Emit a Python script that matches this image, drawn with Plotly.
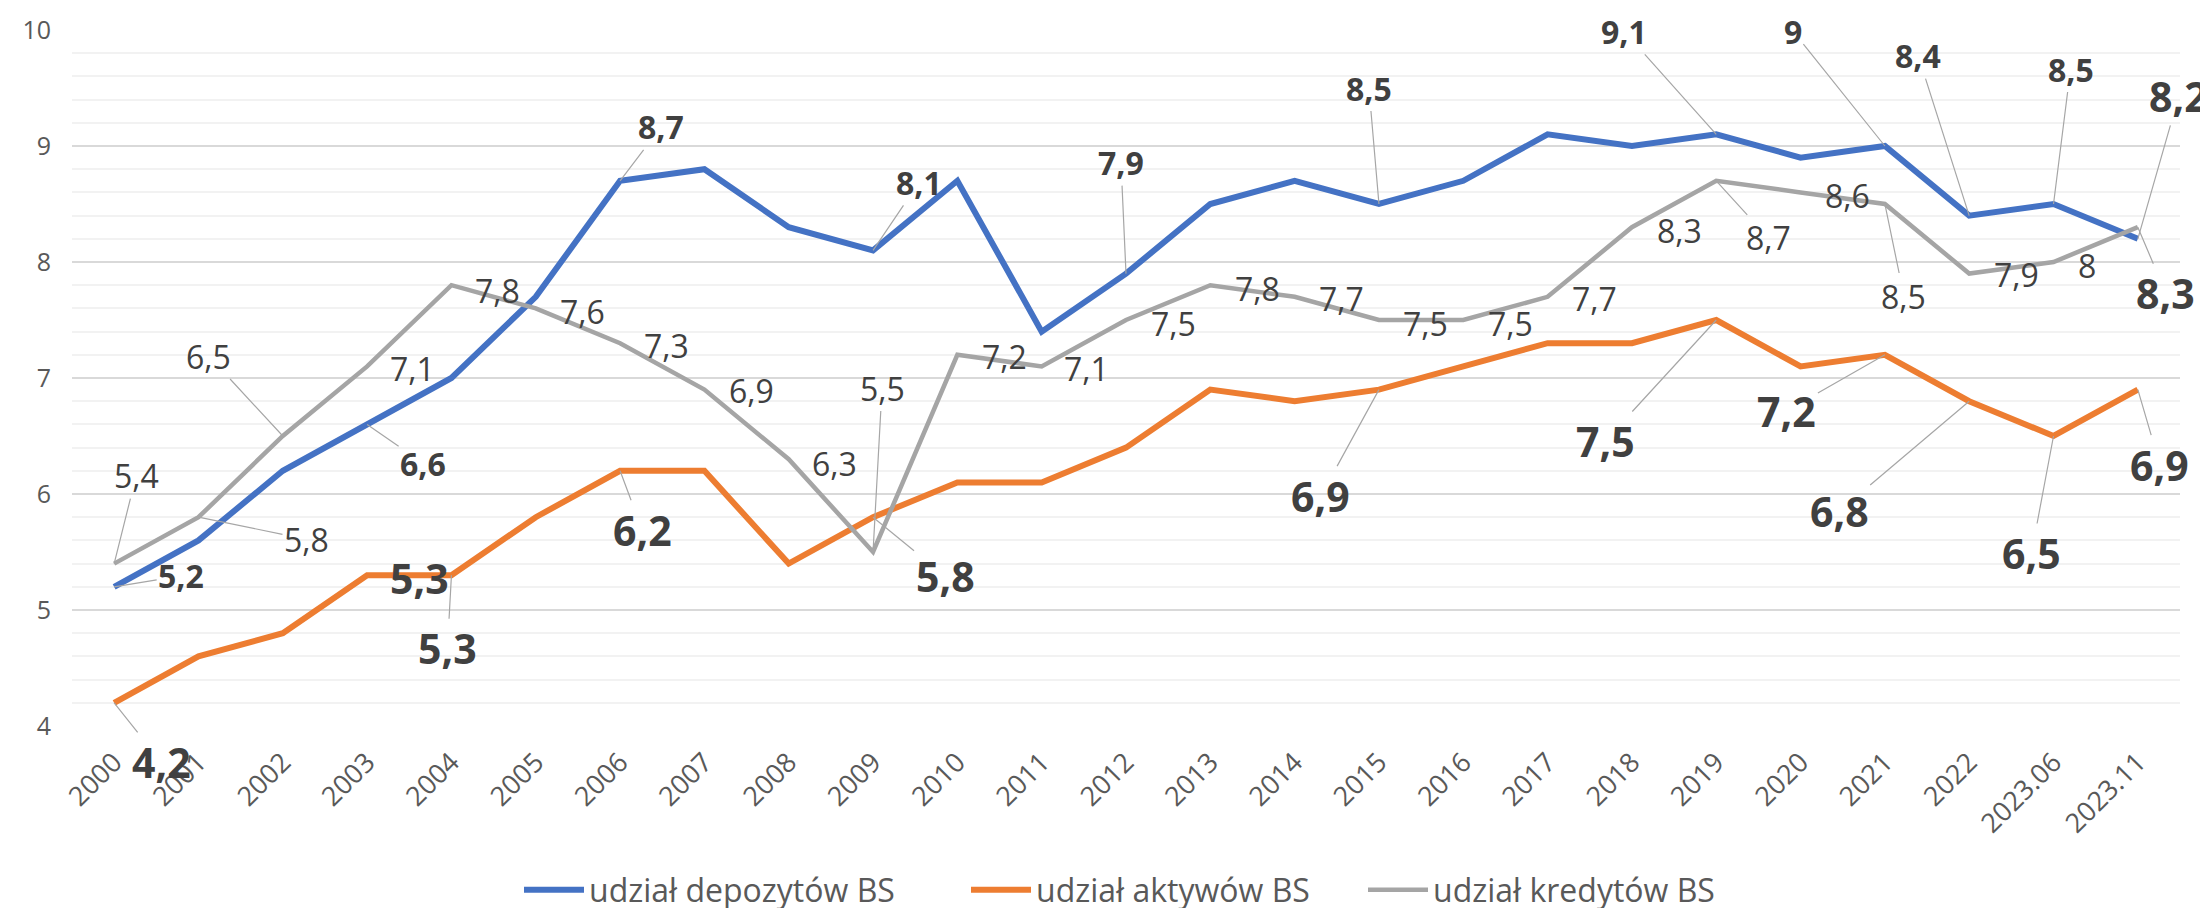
import plotly.graph_objects as go

# ---------------- data ----------------
categories = ["2000", "2001", "2002", "2003", "2004", "2005", "2006", "2007", "2008",
              "2009", "2010", "2011", "2012", "2013", "2014", "2015", "2016", "2017",
              "2018", "2019", "2020", "2021", "2022", "2023.06", "2023.11"]

udzial_depozytow = [5.2, 5.6, 6.2, 6.6, 7.0, 7.7, 8.7, 8.8, 8.3, 8.1, 8.7, 7.4, 7.9,
                    8.5, 8.7, 8.5, 8.7, 9.1, 9.0, 9.1, 8.9, 9.0, 8.4, 8.5, 8.2]
udzial_aktywow = [4.2, 4.6, 4.8, 5.3, 5.3, 5.8, 6.2, 6.2, 5.4, 5.8, 6.1, 6.1, 6.4,
                  6.9, 6.8, 6.9, 7.1, 7.3, 7.3, 7.5, 7.1, 7.2, 6.8, 6.5, 6.9]
udzial_kredytow = [5.4, 5.8, 6.5, 7.1, 7.8, 7.6, 7.3, 6.9, 6.3, 5.5, 7.2, 7.1, 7.5,
                   7.8, 7.7, 7.5, 7.5, 7.7, 8.3, 8.7, 8.6, 8.5, 7.9, 8.0, 8.3]

series_names = ["udział depozytów BS", "udział aktywów BS", "udział kredytów BS"]

# ---------------- styles ----------------
colors = {"dep": "#4472C4", "ast": "#ED7D31", "loan": "#A5A5A5"}
widths = {"dep": 6, "ast": 6, "loan": 4.5}
legend_widths = {"dep": 372, "ast": 322, "loan": 295}
FONT = "Open Sans"
LABEL_COLOR = "#404040"
LEADER_COLOR = "#A6A6A6"
label_styles = {
    "reg": dict(size=32, weight="normal"),
    "mid": dict(size=32, weight="bold"),
    "big": dict(size=41, weight="bold"),
}

series = {"dep": udzial_depozytow, "ast": udzial_aktywow, "loan": udzial_kredytow}

# label placement: (series, category index, dx px, dy px, style, leader line)
label_layout = [
    ("dep", 0, 67, -11, "mid", True),
    ("dep", 3, 56, 39, "mid", True),
    ("dep", 6, 41, -54, "mid", True),
    ("dep", 9, 46, -68, "mid", True),
    ("dep", 12, -5, -111, "mid", True),
    ("dep", 15, -10, -116, "mid", True),
    ("dep", 19, -92, -103, "mid", True),
    ("dep", 21, -92, -115, "mid", True),
    ("dep", 22, -51, -160, "mid", True),
    ("dep", 23, 17, -135, "mid", True),
    ("dep", 24, 41, -143, "big", True),

    ("ast", 0, 47, 59, "big", True),
    ("ast", 3, 52, 3, "big", False),
    ("ast", 4, -4, 73, "big", True),
    ("ast", 6, 22, 59, "big", True),
    ("ast", 9, 72, 59, "big", True),
    ("ast", 15, -58, 106, "big", True),
    ("ast", 19, -111, 121, "big", True),
    ("ast", 21, -98, 56, "big", True),
    ("ast", 22, -130, 110, "big", True),
    ("ast", 23, -22, 117, "big", True),
    ("ast", 24, 22, 75, "big", True),

    ("loan", 0, 22, -88, "reg", True),
    ("loan", 1, 108, 22, "reg", True),
    ("loan", 2, -74, -80, "reg", True),
    ("loan", 3, 45, 2, "reg", False),
    ("loan", 4, 46, 5, "reg", False),
    ("loan", 5, 47, 3, "reg", False),
    ("loan", 6, 46, 2, "reg", False),
    ("loan", 7, 47, 1, "reg", False),
    ("loan", 8, 46, 4, "reg", False),
    ("loan", 9, 9, -164, "reg", True),
    ("loan", 10, 47, 2, "reg", False),
    ("loan", 11, 45, 2, "reg", False),
    ("loan", 12, 47, 3, "reg", False),
    ("loan", 13, 47, 3, "reg", False),
    ("loan", 14, 47, 2, "reg", False),
    ("loan", 15, 47, 3, "reg", False),
    ("loan", 16, 47, 3, "reg", False),
    ("loan", 17, 47, 2, "reg", False),
    ("loan", 18, 48, 3, "reg", False),
    ("loan", 19, 52, 57, "reg", True),
    ("loan", 20, 47, 3, "reg", False),
    ("loan", 21, 19, 92, "reg", True),
    ("loan", 22, 47, 1, "reg", False),
    ("loan", 23, 33, 3, "reg", False),
    ("loan", 24, 28, 66, "big", True),
]


def fmt(v):
    return f"{v:g}".replace(".", ",")


fig = go.Figure()
for key, name in zip(["dep", "ast", "loan"], series_names):
    fig.add_trace(go.Scatter(
        x=categories, y=series[key], name=name, mode="lines",
        line=dict(color=colors[key], width=widths[key]),
        legendwidth=legend_widths[key],
    ))

annotations = []
for key, idx, dx, dy, style, leader in label_layout:
    st = label_styles[style]
    annotations.append(dict(
        x=idx, y=series[key][idx], xref="x", yref="y",
        text=fmt(series[key][idx]),
        showarrow=True, arrowhead=0, arrowwidth=1.2,
        arrowcolor=LEADER_COLOR if leader else "rgba(0,0,0,0)",
        ax=dx, ay=dy, axref="pixel", ayref="pixel", standoff=0,
        font=dict(family=FONT, size=st["size"], weight=st["weight"], color=LABEL_COLOR),
    ))

fig.update_layout(
    width=2208, height=908,
    margin=dict(l=64, r=36, t=22, b=190, autoexpand=False),
    paper_bgcolor="white", plot_bgcolor="white",
    font=dict(family=FONT, color="#595959"),
    showlegend=True,
    legend=dict(orientation="h", x=0.5, xanchor="center", y=-0.2356, yanchor="middle",
                font=dict(size=32, color="#595959"), itemwidth=60),
    annotations=annotations,
)
fig.update_xaxes(
    type="category", categoryorder="array", categoryarray=categories,
    range=[-0.5, len(categories) - 0.5], automargin=False,
    tickangle=-45, tickfont=dict(size=27, color="#595959"), ticklabelstandoff=14,
    showgrid=False, showline=False, ticks="", zeroline=False,
)
fig.update_yaxes(
    range=[4, 10], dtick=1, tickfont=dict(size=25, color="#595959"), automargin=False,
    showgrid=True, gridcolor="#D9D9D9", gridwidth=1.5, zeroline=False,
    showline=False, ticks="", ticklabelstandoff=20,
    minor=dict(dtick=0.2, showgrid=True, gridcolor="#F2F2F2", gridwidth=1.5),
)

fig.write_html("out.html")
